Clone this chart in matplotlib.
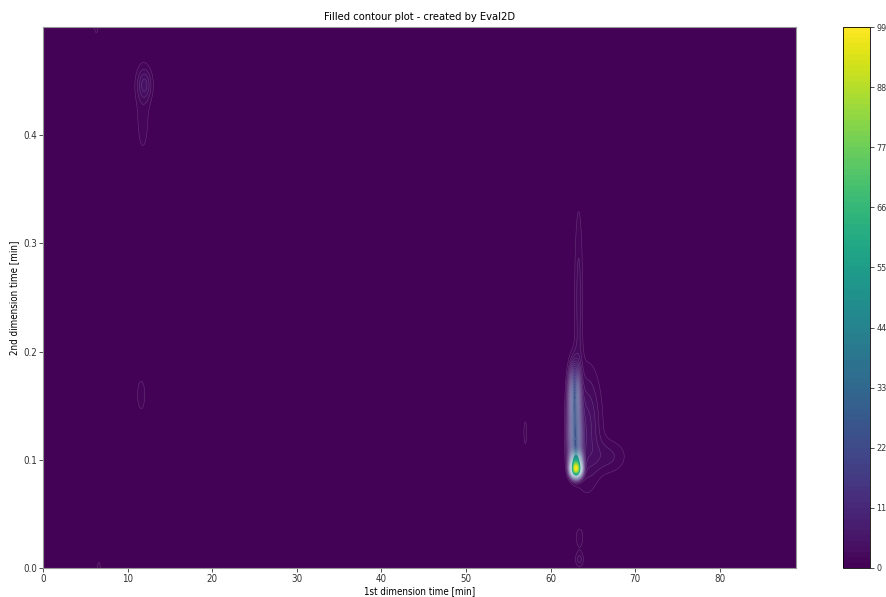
import numpy as np
import matplotlib
matplotlib.use("Agg")
import matplotlib.pyplot as plt

plt.rcParams["font.family"] = ["DejaVu Sans"]
plt.rcParams["font.stretch"] = "condensed"

# Peak table: 1st-dimension centre, 2nd-dimension centre, widths and heights
peak_t1 = [63.0, 63.0, 62.9, 62.85, 62.8, 64.3, 66.8, 63.3, 57.0, 12.0, 11.8, 11.6, 63.4, 63.4, 6.3, 6.6]
peak_t2 = [0.091, 0.099, 0.115, 0.137, 0.163, 0.13, 0.103, 0.25, 0.125, 0.447, 0.42, 0.16, 0.028, 0.008, 0.5, 0.0]
peak_w1 = [0.38, 0.42, 0.5, 0.48, 0.42, 1.1, 1.5, 0.35, 0.2, 0.6, 0.7, 0.5, 0.35, 0.35, 0.25, 0.2]
peak_w2 = [0.0045, 0.006, 0.013, 0.015, 0.016, 0.035, 0.011, 0.06, 0.012, 0.010, 0.035, 0.015, 0.007, 0.005, 0.006, 0.006]
peak_h = [70.0, 35.0, 15.0, 13.0, 17.0, 4.0, 2.0, 2.2, 1.3, 3.2, 1.3, 1.3, 1.6, 2.2, 1.3, 1.3]
max_intensity = 99.0

t1_range = (0.0, 89.0)
t2_range = (0.0, 0.5)
cbar_ticks = [0, 11, 22, 33, 44, 55, 66, 77, 88, 99]

t1 = np.linspace(*t1_range, 900)
t2 = np.linspace(*t2_range, 500)
T1, T2 = np.meshgrid(t1, t2)
Z = np.zeros_like(T1)
for x0, y0, sx, sy, h in zip(peak_t1, peak_t2, peak_w1, peak_w2, peak_h):
    Z += h * np.exp(-0.5 * (((T1 - x0) / sx) ** 2 + ((T2 - y0) / sy) ** 2))
Z = Z / Z.max() * max_intensity

fig = plt.figure(figsize=(8.87, 5.97), dpi=100)
ax = fig.add_axes([0.0485, 0.0486, 0.849, 0.906])
cax = fig.add_axes([0.9505, 0.0486, 0.0305, 0.906])

levels = np.linspace(0, max_intensity, 100)
cf = ax.contourf(T1, T2, Z, levels=levels, cmap="viridis")
ax.contour(T1, T2, Z, levels=np.arange(1, 41, 1), colors="white",
           linewidths=0.4, alpha=0.18)

ax.set_xlim(*t1_range)
ax.set_ylim(*t2_range)
ax.set_xticks([0, 10, 20, 30, 40, 50, 60, 70, 80])
ax.set_yticks([0.0, 0.1, 0.2, 0.3, 0.4])
ax.tick_params(labelsize=7, length=3, width=0.6, pad=1.5, colors="#333333")
for s in ax.spines.values():
    s.set_color("#999999")
    s.set_linewidth(0.8)
ax.set_xlabel("1st dimension time [min]", fontsize=7, labelpad=1)
ax.set_ylabel("2nd dimension time [min]", fontsize=7, labelpad=3)
ax.set_title("Filled contour plot - created by Eval2D", fontsize=8, pad=5)

cb = fig.colorbar(cf, cax=cax, ticks=cbar_ticks)
cb.ax.tick_params(labelsize=6.5, length=3, width=0.6, pad=1.5, colors="#333333")
cb.outline.set_linewidth(0.6)

fig.savefig("out.png", dpi=100)
